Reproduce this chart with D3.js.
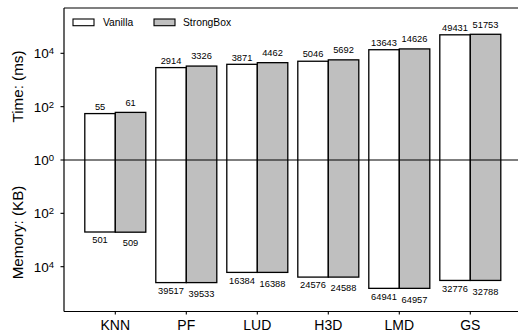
<!DOCTYPE html>
<html>
<head>
<meta charset="utf-8">
<script src="https://cdn.jsdelivr.net/npm/d3@7"></script>
<style>
  html, body { margin: 0; padding: 0; background: #fff; }
  svg { display: block; font-family: "Liberation Sans", Arial, Helvetica, sans-serif; }
</style>
</head>
<body>
<svg id="chart" width="518" height="333"></svg>
<script>
const categories = ["KNN", "PF", "LUD", "H3D", "LMD", "GS"];
const seriesNames = ["Vanilla", "StrongBox"];
const timeVanilla = [55, 2914, 3871, 5046, 13643, 49431];
const timeStrongBox = [61, 3326, 4462, 5692, 14626, 51753];
const memVanilla = [501, 39517, 16384, 24576, 64941, 32776];
const memStrongBox = [509, 39533, 16388, 24588, 64957, 32788];
const yTickValues = [1, 100, 10000];
const yTickExps = ["0", "2", "4"];

const svg = d3.select("#chart");
const plotLeft = 64, plotTop = 8, plotBottom = 311.5, plotRight = 530;
const zeroY = 160;
const perDecade = 26.67;

const x = d3.scalePoint().domain(categories).range([115.3, 470.3]);
const yTop = d3.scaleLog().domain([1, Math.pow(10, (zeroY - plotTop) / perDecade)]).range([zeroY, plotTop]);
const yBot = d3.scaleLog().domain([1, Math.pow(10, (plotBottom - zeroY) / perDecade)]).range([zeroY, plotBottom]);

const barW = 30.5;
const fills = ["#ffffff", "#bfbfbf"];

const data = categories.map((c, i) => [
  { cat: c, s: 0, t: timeVanilla[i], m: memVanilla[i] },
  { cat: c, s: 1, t: timeStrongBox[i], m: memStrongBox[i] }
]).flat();

// bars
svg.append("g").selectAll("rect").data(data).join("rect")
  .attr("x", d => x(d.cat) + (d.s === 0 ? -barW : 0))
  .attr("y", d => yTop(d.t))
  .attr("width", barW)
  .attr("height", d => yBot(d.m) - yTop(d.t))
  .attr("fill", d => fills[d.s])
  .attr("stroke", "#000")
  .attr("stroke-width", 1.3);

// zero line
svg.append("line").attr("x1", plotLeft).attr("x2", plotRight).attr("y1", zeroY).attr("y2", zeroY)
  .attr("stroke", "#000").attr("stroke-width", 1.2);

// value labels
const lbl = svg.append("g").attr("font-size", 9.3).attr("fill", "#000").attr("text-anchor", "middle");
lbl.selectAll("text.t").data(data).join("text").attr("class", "t")
  .attr("x", d => x(d.cat) + (d.s === 0 ? -barW / 2 : barW / 2))
  .attr("y", d => yTop(d.t) - (d.s === 0 ? 7 : 10))
  .attr("dy", "0.35em")
  .text(d => d.t);
lbl.selectAll("text.m").data(data).join("text").attr("class", "m")
  .attr("x", d => x(d.cat) + (d.s === 0 ? -barW / 2 : barW / 2))
  .attr("y", d => yBot(d.m) + (d.s === 0 ? 8 : 11))
  .attr("dy", "0.35em")
  .text(d => d.m);

// frame: left, top, bottom
const frame = svg.append("g").attr("stroke", "#000").attr("stroke-width", 1.2);
frame.append("line").attr("x1", plotLeft).attr("x2", plotLeft).attr("y1", plotTop).attr("y2", plotBottom);
frame.append("line").attr("x1", plotLeft).attr("x2", plotRight).attr("y1", plotTop).attr("y2", plotTop);
frame.append("line").attr("x1", plotLeft).attr("x2", plotRight).attr("y1", plotBottom).attr("y2", plotBottom);

// y ticks
function drawYTicks(scale, skipZero) {
  const g = svg.append("g");
  yTickValues.forEach((v, i) => {
    if (skipZero && v === 1) return;
    const yy = scale(v);
    g.append("line").attr("x1", plotLeft - 3.5).attr("x2", plotLeft).attr("y1", yy).attr("y2", yy)
      .attr("stroke", "#000").attr("stroke-width", 1.1);
    const t = g.append("text").attr("x", 54).attr("y", yy).attr("dy", "0.38em")
      .attr("text-anchor", "end").attr("font-size", 13.5).attr("fill", "#000");
    t.append("tspan").text("10");
    t.append("tspan").attr("dy", "-0.45em").attr("font-size", 9.5).text(yTickExps[i]);
  });
}
drawYTicks(yTop, false);
drawYTicks(yBot, true);

// x ticks
const xg = svg.append("g");
categories.forEach(c => {
  xg.append("line").attr("x1", x(c)).attr("x2", x(c)).attr("y1", plotBottom).attr("y2", plotBottom + 3)
    .attr("stroke", "#000").attr("stroke-width", 1.1);
  xg.append("text").attr("x", x(c)).attr("y", 325).attr("dy", "0.36em")
    .attr("text-anchor", "middle").attr("font-size", 14).text(c);
});

// axis titles
svg.append("text").attr("transform", "translate(18,86.5) rotate(-90)")
  .attr("text-anchor", "middle").attr("dy", "0.35em").attr("font-size", 15.2).text("Time: (ms)");
svg.append("text").attr("transform", "translate(18,232.5) rotate(-90)")
  .attr("text-anchor", "middle").attr("dy", "0.35em").attr("font-size", 15.2).text("Memory: (KB)");

// legend
const lg = svg.append("g");
const legendItems = [
  { name: seriesNames[0], bx: 73, tx: 103 },
  { name: seriesNames[1], bx: 154, tx: 183 }
];
legendItems.forEach((it, i) => {
  lg.append("rect").attr("x", it.bx).attr("y", 19).attr("width", 21).attr("height", 6.7)
    .attr("fill", fills[i]).attr("stroke", "#000").attr("stroke-width", 1.1);
  lg.append("text").attr("x", it.tx).attr("y", 22.3).attr("dy", "0.35em")
    .attr("font-size", 10.3).text(it.name);
});
</script>
</body>
</html>
